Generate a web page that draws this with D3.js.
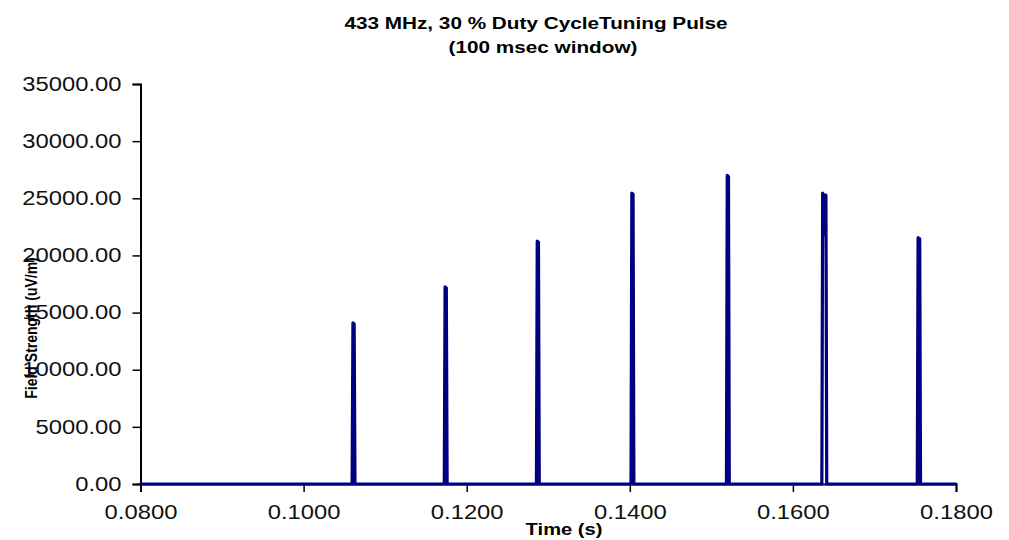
<!DOCTYPE html>
<html>
<head>
<meta charset="utf-8">
<script src="https://cdn.jsdelivr.net/npm/d3@7"></script>
<style>
  body { margin: 0; background: #fff; }
  svg { display: block; font-family: "Liberation Sans", Arial, sans-serif; }
</style>
</head>
<body>
<div id="chart"></div>
<script>
// sampled field strength trace (time in s, field in uV/m)
var timeS = [
    0.0800, 0.1059,
    0.10595, 0.10605, 0.10620, 0.10630,
    0.1172,
    0.11725, 0.11735, 0.11750, 0.11760,
    0.1285,
    0.12855, 0.12865, 0.12880, 0.12890,
    0.1401,
    0.14015, 0.14025, 0.14040, 0.14050,
    0.1518,
    0.15185, 0.15195, 0.15210, 0.15220,
    0.1635,
    0.16355, 0.16365, 0.16385, 0.16395, 0.16405, 0.16415,
    0.1752,
    0.17525, 0.17535, 0.17555, 0.17565,
    0.1800
];
var fieldUV = [
    0, 0,
    0, 14100, 14000, 0,
    0,
    0, 17250, 17150, 0,
    0,
    0, 21250, 21150, 0,
    0,
    0, 25450, 25350, 0,
    0,
    0, 27000, 26900, 0,
    0,
    0, 25450, 21800, 25300, 25250, 0,
    0,
    0, 21550, 21450, 0,
    0
];
var xTicks = [0.08, 0.10, 0.12, 0.14, 0.16, 0.18];
var yTicks = [0, 5000, 10000, 15000, 20000, 25000, 30000, 35000];

var titleLines = ["433 MHz, 30 %  Duty CycleTuning Pulse", "(100 msec window)"];
var xTitle = "Time (s)";
var yTitle = "Field Strength (uV/m)";

var W = 1009, H = 540;
var margin = {top: 84, right: 53, bottom: 56, left: 140.5};
var stretch = 1.22;   // the reference text is drawn wide

var svg = d3.select("#chart").append("svg")
    .attr("width", W)
    .attr("height", H);

var w = W - margin.left - margin.right,
    h = H - margin.top - margin.bottom;

var xScale = d3.scaleLinear().domain([0.08, 0.18]).range([0, w]);
var yScale = d3.scaleLinear().domain([0, 35000]).range([h, 0]);

var g = svg.append("g")
    .attr("transform", "translate(" + margin.left + "," + margin.top + ")");

// axes
var xAxis = g.append("g")
    .attr("transform", "translate(0," + h + ")")
    .call(d3.axisBottom(xScale).tickValues(xTicks).tickSize(8).tickPadding(13)
        .tickFormat(d3.format(".4f")));

var yAxis = g.append("g")
    .call(d3.axisLeft(yScale).tickValues(yTicks).tickSize(8).tickPadding(2)
        .tickFormat(d3.format(".2f")));

[xAxis, yAxis].forEach(function(ax) {
    ax.select(".domain").attr("stroke", "#000").attr("stroke-width", 2);
    ax.selectAll(".tick line").attr("stroke", "#000").attr("stroke-width", 1.5);
    ax.selectAll(".tick text")
        .attr("fill", "#111")
        .style("font-size", "19.5px")
        .attr("transform", "scale(" + stretch + ",1)");
});
xAxis.selectAll(".tick text").attr("dy", "0.71em");
yAxis.selectAll(".tick text").attr("x", -19 / stretch);

// data line
var points = timeS.map(function(t, i) { return [t, fieldUV[i]]; });

var line = d3.line()
    .x(function(d) { return xScale(d[0]); })
    .y(function(d) { return yScale(d[1]); });

g.append("path")
    .datum(points)
    .attr("fill", "none")
    .attr("stroke", "#000080")
    .attr("stroke-width", 3.2)
    .attr("stroke-linejoin", "round")
    .attr("stroke-linecap", "round")
    .attr("d", line);

// titles
function wideText(x, y, str, size, rotate) {
    var tr = "translate(" + x + "," + y + ")";
    tr += rotate ? " scale(" + stretch + ",1) rotate(-90)" : " scale(" + stretch + ",1)";
    svg.append("text")
        .attr("transform", tr)
        .attr("text-anchor", "middle")
        .style("font-size", size + "px")
        .style("font-weight", "bold")
        .attr("fill", "#000")
        .text(str);
}

wideText(536, 29, titleLines[0], 17);
wideText(543, 53, titleLines[1], 17);
wideText(564, 535, xTitle, 16.5);
wideText(37, 328, yTitle, 14, true);
</script>
</body>
</html>
